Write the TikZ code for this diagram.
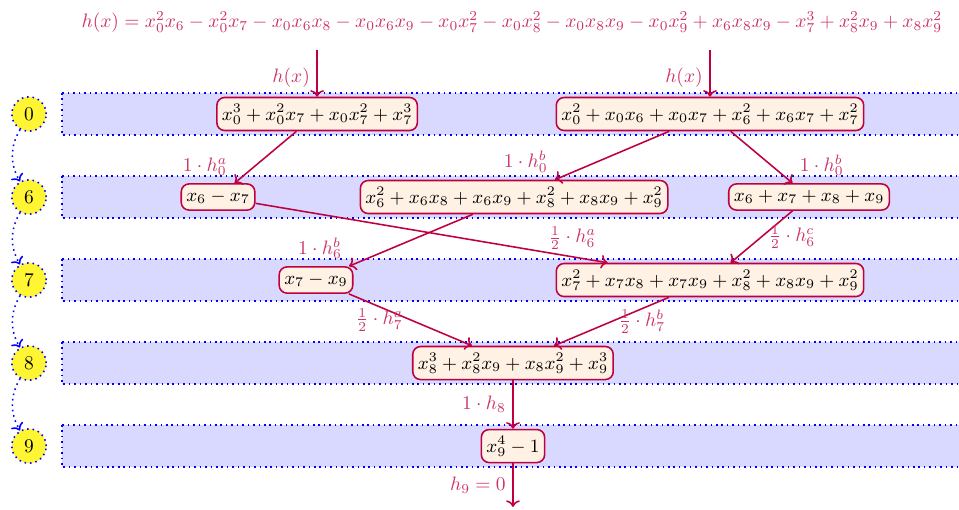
\RequirePackage{fix-cm}
\documentclass[tikz,border=0pt]{standalone}
\usepackage{xcolor}
\usepackage{tikz}
\usetikzlibrary{arrows.meta}
\usetikzlibrary{positioning}
\tikzset{%
  poly/.style = {rectangle, thick, draw=purple, fill=orange!10, rounded corners=4pt, inner xsep=2.6pt, font=\fontsize{9.65}{11.5}\selectfont},
  level/.style = {circle, thick, dotted, draw=blue, fill=yellow!80, minimum size=0.62cm, inner sep=0pt},
  band/.style = {thick, dotted, draw=blue, fill=blue!15},
  reduce/.style = {->, thick, draw=purple},
  lbl/.style = {text=purple!80}
}

\begin{document}
\begin{tikzpicture}[thick]
  \useasboundingbox (0,2.06) rectangle (17.33,-7.14);

  % one band and one circle per level
  \foreach \k/\lv in {0/0,1/6,2/7,3/8,4/9} {
    \path[band] (1.12,-1.5*\k+0.38) rectangle (17.6,-1.5*\k-0.38);
    \node[level] (lv\lv) at (0.524,-1.5*\k) {\lv};
  }
  \foreach \a/\b in {0/6,6/7,7/8,8/9}
    \draw[->, dotted, thick, blue] (lv\a) to[bend right] (lv\b);

  % polynomials
  \node[lbl] (hx) at (9.25,1.66) {$h(x)=x_0^2x_6-x_0^2x_7-x_0x_6x_8-x_0x_6x_9-x_0x_7^2-x_0x_8^2-x_0x_8x_9-x_0x_9^2+x_6x_8x_9-x_7^3+x_8^2x_9+x_8x_9^2$};
  \coordinate (in-a) at (5.73,1.16);
  \coordinate (in-b) at (12.83,1.16);

  \node[poly] (p0a) at (5.73,0) {$x_0^3+x_0^2x_7+x_0x_7^2+x_7^3$};
  \node[poly] (p0b) at (12.83,0) {$x_0^2+x_0x_6+x_0x_7+x_6^2+x_6x_7+x_7^2$};
  \node[poly] (p6a) at (3.94,-1.5) {$x_6-x_7$};
  \node[poly] (p6b) at (9.29,-1.5) {$x_6^2+x_6x_8+x_6x_9+x_8^2+x_8x_9+x_9^2$};
  \node[poly] (p6c) at (14.62,-1.5) {$x_6+x_7+x_8+x_9$};
  \node[poly] (p7a) at (5.71,-3) {$x_7-x_9$};
  \node[poly] (p7b) at (12.83,-3) {$x_7^2+x_7x_8+x_7x_9+x_8^2+x_8x_9+x_9^2$};
  \node[poly] (p8) at (9.27,-4.5) {$x_8^3+x_8^2x_9+x_8x_9^2+x_9^3$};
  \node[poly] (p9) at (9.27,-6) {$x_9^4-1$};
  \coordinate (out) at (9.27,-7.1);

  % reductions
  \draw[reduce] (in-a) -- node[lbl, pos=0.6, left] {$h(x)$} (p0a);
  \draw[reduce] (in-b) -- node[lbl, pos=0.6, left] {$h(x)$} (p0b);
  \draw[reduce] (p0a) -- node[lbl, at end, above left] {$1\cdot h_0^a$} (p6a);
  \draw[reduce] (p0b) -- node[lbl, at end, above left] {$1\cdot h_0^b$} (p6b);
  \draw[reduce] (p0b) -- node[lbl, at end, above right] {$1\cdot h_0^b$} (p6c);
  \draw[reduce] (p6a) -- node[lbl, pos=0.9, above] {$\frac{1}{2}\cdot h_6^a$} (p7b);
  \draw[reduce] (p6b) -- node[lbl, at end, above left] {$1\cdot h_6^b$} (p7a);
  \draw[reduce] (p6c) -- node[lbl, midway, right] {$\frac{1}{2}\cdot h_6^c$} (p7b);
  \draw[reduce] (p7a) -- node[lbl, midway, left] {$\frac{1}{2}\cdot h_7^a$} (p8);
  \draw[reduce] (p7b) -- node[lbl, midway, right] {$\frac{1}{2}\cdot h_7^b$} (p8);
  \draw[reduce] (p8) -- node[lbl, midway, left] {$1\cdot h_8$} (p9);
  \draw[reduce] (p9) -- node[lbl, midway, left] {$h_9=0$} (out);
\end{tikzpicture}
\end{document}
